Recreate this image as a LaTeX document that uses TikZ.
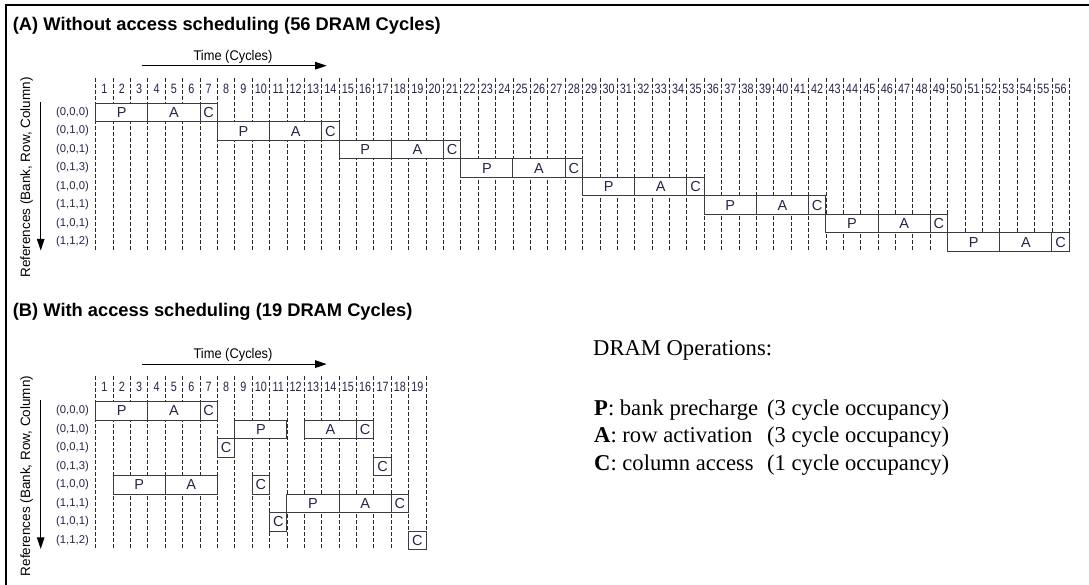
\documentclass[tikz,border=0pt]{standalone}
\usepackage{fontspec}
\setmainfont{Liberation Sans}
\newfontfamily\tnr{Liberation Serif}
\usetikzlibrary{arrows.meta}
\definecolor{labc}{RGB}{38,38,72}
\definecolor{boxc}{RGB}{60,60,60}
\definecolor{gridc}{RGB}{40,40,40}
\begin{document}
\begin{tikzpicture}[x=1pt,y=-1pt,
  title/.style={font=\bfseries\fontsize{18.3}{20}\selectfont, anchor=base west, inner sep=0},
  timelbl/.style={font=\fontsize{14}{16}\selectfont, anchor=base, inner sep=0},
  reflbl/.style={font=\fontsize{13.5}{15}\selectfont, rotate=90, inner sep=0},
  rowlbl/.style={font=\fontsize{11.3}{13}\selectfont, anchor=east, inner sep=0, text=labc},
  numlbl/.style={font=\fontsize{13.5}{15}\selectfont, anchor=base, inner sep=0, text=labc},
  opbox/.style={draw=boxc, line width=1pt, fill=white, inner sep=0, outer sep=0,
    anchor=north west, minimum height=18.5pt, font=\fontsize{14.5}{16}\selectfont, text=labc},
  gridline/.style={draw=gridc, line width=0.8pt, dash pattern=on 4pt off 2pt},
  axis/.style={line width=1pt, -{Triangle[length=11.5pt,width=7.5pt]}},
  legend/.style={font=\tnr\fontsize{22.6}{24}\selectfont, anchor=base west, inner sep=0}]
\useasboundingbox (0,0) rectangle (1089,585);
\fill[white] (0,0) rectangle (1089,585);
% frame
\draw[line width=2.4pt] (5.8,585) -- (5.8,5) -- (1089,5);

% ===== Part A =====
\node[title] (ta) at (12.7,30.7) {(A) Without access scheduling (56 DRAM Cycles)};
\node[timelbl] (tla) at (233,60.5) {\scalebox{0.92}[1]{Time (Cycles)}};
\coordinate (tas) at (141.7,65.7);
\coordinate (tae) at (326.7,65.7);
\draw[axis] (tas) -- (tae);
\node[reflbl] (rfa) at (26.7,177.5) {References (Bank, Row, Column)};
\coordinate (vas) at (40.7,102);
\coordinate (vae) at (40.7,250.5);
\draw[axis] (vas) -- (vae);
\foreach \k in {0,...,56} {
  \draw[gridline] (95.7+17.386*\k,77.7) -- (95.7+17.386*\k,251.3);
}
\foreach \k in {1,...,56} {
  \node[numlbl] (na\k) at (95.7+17.386*\k-8.693,93.3) {\scalebox{0.8}[1]{\k}};
}
\foreach \lab [count=\i from 0] in {{(0,0,0)},{(0,1,0)},{(0,0,1)},{(0,1,3)},{(1,0,0)},{(1,1,1)},{(1,0,1)},{(1,1,2)}} {
  \pgfmathsetmacro{\ty}{103.3+18.5*\i}
  \pgfmathsetmacro{\cy}{\ty+9.25}
  \pgfmathsetmacro{\xp}{95.7+17.386*7*\i}
  \node[rowlbl] (ra\i) at (89,\cy) {\lab};
  \node[opbox, minimum width=52.158pt] (aP\i) at (\xp,\ty) {P};
  \node[opbox, minimum width=52.158pt] (aA\i) at (\xp+52.158,\ty) {A};
  \node[opbox, minimum width=17.386pt] (aC\i) at (\xp+104.316,\ty) {C};
}

% ===== Part B =====
\node[title] (tb) at (12.7,316) {(B) With access scheduling (19 DRAM Cycles)};
\node[timelbl] (tlb) at (233,358.9) {\scalebox{0.92}[1]{Time (Cycles)}};
\coordinate (tbs) at (141.7,364.1);
\coordinate (tbe) at (326.7,364.1);
\draw[axis] (tbs) -- (tbe);
\node[reflbl] (rfb) at (26.7,475.9) {References (Bank, Row, Column)};
\coordinate (vbs) at (40.7,400.4);
\coordinate (vbe) at (40.7,548.9);
\draw[axis] (vbs) -- (vbe);
\foreach \k in {0,...,19} {
  \draw[gridline] (95.7+17.386*\k,376.1) -- (95.7+17.386*\k,549.7);
}
\foreach \k in {1,...,19} {
  \node[numlbl] (nb\k) at (95.7+17.386*\k-8.693,391.7) {\scalebox{0.8}[1]{\k}};
}
\foreach \lab [count=\i from 0] in {{(0,0,0)},{(0,1,0)},{(0,0,1)},{(0,1,3)},{(1,0,0)},{(1,1,1)},{(1,0,1)},{(1,1,2)}} {
  \node[rowlbl] (rb\i) at (89,401.7+18.5*\i+9.25) {\lab};
}
\foreach \nm/\rw/\sc/\nc/\lt in {b1/0/1/3/P, b2/0/4/3/A, b3/0/7/1/C, b4/1/9/3/P, b5/1/13/3/A, b6/1/16/1/C, b7/2/8/1/C, b8/3/17/1/C, b9/4/2/3/P, b10/4/5/3/A, b11/4/10/1/C, b12/5/12/3/P, b13/5/15/3/A, b14/5/18/1/C, b15/6/11/1/C, b16/7/19/1/C} {
  \node[opbox, minimum width={17.386pt*\nc}] (\nm) at (95.7+17.386*\sc-17.386,401.7+18.5*\rw) {\lt};
}

% ===== Legend =====
\node[legend] (lt) at (593,355) {DRAM Operations:};
\node[legend] (lp) at (594,415) {\textbf{P}: bank precharge};
\node[legend] (lpo) at (767,415) {(3 cycle occupancy)};
\node[legend] (la) at (594,442.7) {\textbf{A}: row activation};
\node[legend] (lao) at (767,442.7) {(3 cycle occupancy)};
\node[legend] (lc) at (594,470) {\textbf{C}: column access};
\node[legend] (lco) at (767,470) {(1 cycle occupancy)};
\end{tikzpicture}
\end{document}
